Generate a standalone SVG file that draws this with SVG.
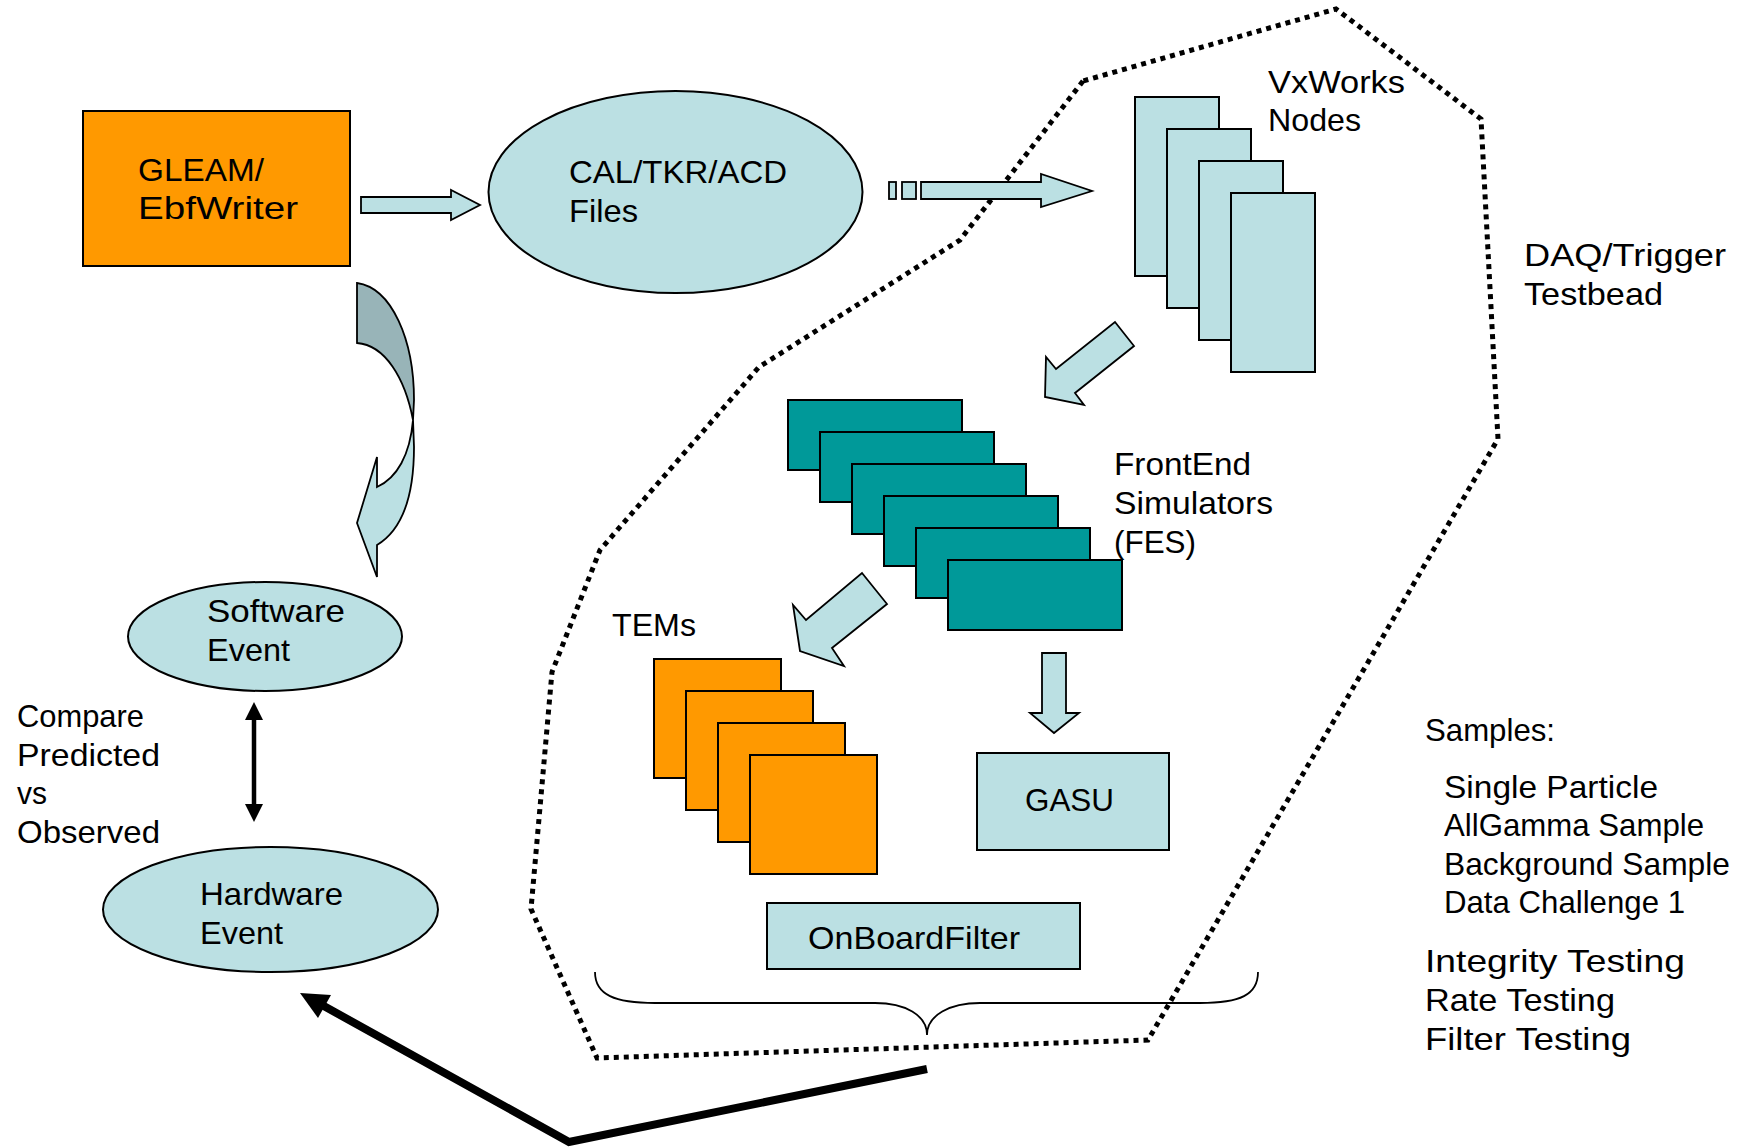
<svg xmlns="http://www.w3.org/2000/svg" width="1742" height="1148" viewBox="0 0 1742 1148">
<style>
.t{font-family:"Liberation Sans",Arial,sans-serif;font-size:32px;fill:#000}
.lb{fill:#BBE0E3;stroke:#000;stroke-width:2}
.or{fill:#FF9900;stroke:#000;stroke-width:2}
.te{fill:#009999;stroke:#000;stroke-width:2}
.arr{fill:#BBE0E3;stroke:#000;stroke-width:1.8;stroke-linejoin:miter}
</style>
<rect width="1742" height="1148" fill="#fff"/>
<g id="testbed-boundary">
<polygon points="1083,81 960,240 759,367 600,550 552,672 531,909 597,1058 1148,1040 1498,439 1481,119 1336,9" fill="none" stroke="#000" stroke-width="5" stroke-dasharray="5 5"/>
</g>
<g id="gleam">
<rect class="or" x="83" y="111" width="267" height="155"/>
<text class="t" x="138" y="181" textLength="126" lengthAdjust="spacingAndGlyphs">GLEAM/</text>
<text class="t" x="138" y="219" textLength="160" lengthAdjust="spacingAndGlyphs">EbfWriter</text>
</g>
<g id="files">
<ellipse class="lb" cx="675.5" cy="192" rx="187" ry="101"/>
<text class="t" x="569" y="183" textLength="218" lengthAdjust="spacingAndGlyphs">CAL/TKR/ACD</text>
<text class="t" x="569" y="222" textLength="69" lengthAdjust="spacingAndGlyphs">Files</text>
</g>
<g id="vxworks">
<rect class="lb" x="1135" y="97" width="84" height="179"/>
<rect class="lb" x="1167" y="129" width="84" height="179"/>
<rect class="lb" x="1199" y="161" width="84" height="179"/>
<rect class="lb" x="1231" y="193" width="84" height="179"/>
<text class="t" x="1268" y="93" textLength="137" lengthAdjust="spacingAndGlyphs">VxWorks</text>
<text class="t" x="1268" y="131" textLength="93" lengthAdjust="spacingAndGlyphs">Nodes</text>
</g>
<g id="daq-label">
<text class="t" x="1524" y="266" textLength="202" lengthAdjust="spacingAndGlyphs">DAQ/Trigger</text>
<text class="t" x="1524" y="305" textLength="139" lengthAdjust="spacingAndGlyphs">Testbead</text>
</g>
<g id="fes">
<rect class="te" x="788" y="400" width="174" height="70"/>
<rect class="te" x="820" y="432" width="174" height="70"/>
<rect class="te" x="852" y="464" width="174" height="70"/>
<rect class="te" x="884" y="496" width="174" height="70"/>
<rect class="te" x="916" y="528" width="174" height="70"/>
<rect class="te" x="948" y="560" width="174" height="70"/>
<text class="t" x="1114" y="475" textLength="137" lengthAdjust="spacingAndGlyphs">FrontEnd</text>
<text class="t" x="1114" y="514" textLength="159" lengthAdjust="spacingAndGlyphs">Simulators</text>
<text class="t" x="1114" y="553" textLength="82" lengthAdjust="spacingAndGlyphs">(FES)</text>
</g>
<g id="tems">
<rect class="or" x="654" y="659" width="127" height="119"/>
<rect class="or" x="686" y="691" width="127" height="119"/>
<rect class="or" x="718" y="723" width="127" height="119"/>
<rect class="or" x="750" y="755" width="127" height="119"/>
<text class="t" x="612" y="636" textLength="84" lengthAdjust="spacingAndGlyphs">TEMs</text>
</g>
<g id="gasu">
<rect class="lb" x="977" y="753" width="192" height="97"/>
<text class="t" x="1025" y="811" textLength="89" lengthAdjust="spacingAndGlyphs">GASU</text>
</g>
<g id="onboardfilter">
<rect class="lb" x="767" y="903" width="313" height="66"/>
<text class="t" x="808" y="949" textLength="212" lengthAdjust="spacingAndGlyphs">OnBoardFilter</text>
</g>
<g id="software-event">
<ellipse class="lb" cx="265" cy="636.5" rx="137" ry="54.5"/>
<text class="t" x="207" y="622" textLength="138" lengthAdjust="spacingAndGlyphs">Software</text>
<text class="t" x="207" y="661" textLength="83" lengthAdjust="spacingAndGlyphs">Event</text>
</g>
<g id="hardware-event">
<ellipse class="lb" cx="270.5" cy="909.5" rx="167.5" ry="62.5"/>
<text class="t" x="200" y="905" textLength="143" lengthAdjust="spacingAndGlyphs">Hardware</text>
<text class="t" x="200" y="944" textLength="83" lengthAdjust="spacingAndGlyphs">Event</text>
</g>
<g id="compare-label">
<text class="t" x="17" y="727" textLength="127" lengthAdjust="spacingAndGlyphs">Compare</text>
<text class="t" x="17" y="766" textLength="143" lengthAdjust="spacingAndGlyphs">Predicted</text>
<text class="t" x="17" y="804" textLength="30" lengthAdjust="spacingAndGlyphs">vs</text>
<text class="t" x="17" y="843" textLength="143" lengthAdjust="spacingAndGlyphs">Observed</text>
</g>
<g id="samples-label">
<text class="t" x="1425" y="741" textLength="130" lengthAdjust="spacingAndGlyphs">Samples:</text>
<text class="t" x="1444" y="798" textLength="214" lengthAdjust="spacingAndGlyphs">Single Particle</text>
<text class="t" x="1444" y="836" textLength="260" lengthAdjust="spacingAndGlyphs">AllGamma Sample</text>
<text class="t" x="1444" y="875" textLength="286" lengthAdjust="spacingAndGlyphs">Background Sample</text>
<text class="t" x="1444" y="913" textLength="241" lengthAdjust="spacingAndGlyphs">Data Challenge 1</text>
<text class="t" x="1425" y="972" textLength="260" lengthAdjust="spacingAndGlyphs">Integrity Testing</text>
<text class="t" x="1425" y="1011" textLength="190" lengthAdjust="spacingAndGlyphs">Rate Testing</text>
<text class="t" x="1425" y="1050" textLength="206" lengthAdjust="spacingAndGlyphs">Filter Testing</text>
</g>
<g id="connectors">
<polygon class="arr" points="361,197 451,197 451,190 480,205 451,220 451,213 361,213"/>
<rect class="arr" x="889" y="182" width="7" height="17"/>
<rect class="arr" x="902" y="182" width="14" height="17"/>
<polygon class="arr" points="921,182 1041,182 1041,174 1092,191 1041,207 1041,199 921,199"/>
<path d="M357,283 C392,288 414,340 414,400 L413,420 C405,378 385,345 357,343 Z" fill="#98B4B8" stroke="#000" stroke-width="1.8"/>
<path d="M413,420 C410,455 397,478 377,487 L377,457 L357,523 L377,577 L377,545 C402,530 414,495 414,447 Z" class="arr"/>
<polygon class="arr" points="1115,322 1134,346 1075,393 1084,405 1045,397 1046,357 1056,369"/>
<polygon class="arr" points="862,573 887,604 832,648 844,666 800,651 793,605 806,620"/>
<polygon class="arr" points="1042,653 1066,653 1066,713 1079,713 1054,733 1030,713 1042,713"/>
<path d="M595,972 C595,995 615,1003 655,1003 L875,1003 C905,1003 927,1015 927,1035 C927,1015 950,1003 980,1003 L1200,1003 C1240,1003 1258,995 1258,972" fill="none" stroke="#000" stroke-width="1.8"/>
<line x1="254" y1="718" x2="254" y2="806" stroke="#000" stroke-width="4.5"/>
<polygon points="254,702 263,720 245,720" fill="#000"/>
<polygon points="254,822 263,804 245,804" fill="#000"/>
<polyline points="927,1069 569,1142 322,1005" fill="none" stroke="#000" stroke-width="8" stroke-linejoin="miter"/>
<polygon points="300,993 331,995 318,1018" fill="#000"/>
</g>
</svg>
